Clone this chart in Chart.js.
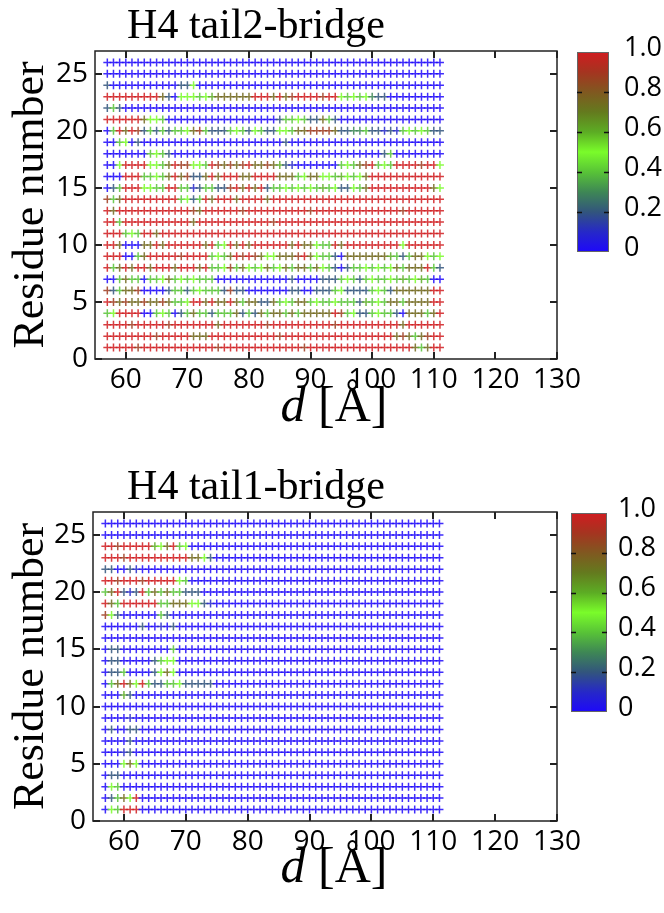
<!DOCTYPE html>
<html>
<head>
<meta charset="utf-8">
<script src="https://cdn.jsdelivr.net/npm/chart.js@4.4.1/dist/chart.umd.min.js"></script>
<style>
  body { margin: 0; background: #fff; }
  #page { position: relative; width: 664px; height: 913px; overflow: hidden; }
  canvas { position: absolute; }
</style>
</head>
<body>
<div id="page">
  <canvas id="tail2Chart" width="664" height="456" style="left:0;top:0"></canvas>
  <canvas id="tail1Chart" width="664" height="452" style="left:0;top:461px"></canvas>
  <canvas id="tail2Bar" width="104" height="240" style="left:560px;top:30px"></canvas>
  <canvas id="tail1Bar" width="104" height="240" style="left:555px;top:491px"></canvas>
</div>
<script>
// distance d [Å] of each column, residue number of each row (top row first)
const distances = [57, 58, 59, 60, 61, 62, 63, 64, 65, 66, 67, 68, 69, 70, 71, 72, 73, 74, 75, 76,
  77, 78, 79, 80, 81, 82, 83, 84, 85, 86, 87, 88, 89, 90, 91, 92, 93, 94, 95, 96,
  97, 98, 99, 100, 101, 102, 103, 104, 105, 106, 107, 108, 109, 110, 111];
const residues = [26, 25, 24, 23, 22, 21, 20, 19, 18, 17, 16, 15, 14, 13, 12, 11, 10, 9, 8, 7, 6, 5, 4, 3, 2, 1];

const levels = [0, 0.1, 0.2, 0.3, 0.4, 0.5, 0.6, 0.75, 0.88, 1.0];

// H4 tail2-bridge, one string per residue (26 down to 1), columns d = 57..111
const tail2Rows = [
  "00000 00000 00000 00000 00000 00000 00000 00000 00000 00000 00000",
  "00000 00000 00000 00000 00000 00000 00000 00000 00000 00000 00000",
  "20000 00000 00225 00000 00000 00000 00000 00000 00000 00000 00000",
  "99999 99997 20555 45677 77779 99797 89999 89954 54532 20000 00000",
  "24200 00000 00000 00000 00000 00000 00000 00000 00000 00000 00000",
  "99999 97554 00000 00000 00000 00024 45422 74200 00000 00000 00000",
  "04979 82424 24457 84222 45425 42255 47788 88722 33422 12145 45422",
  "00450 20000 00000 00000 00000 00002 00000 00000 00000 00000 00000",
  "00000 00454 20000 00000 00000 00000 00000 00000 00000 24000 00000",
  "00599 99554 79885 54987 87897 78762 10000 00045 47894 54999 98995",
  "00099 94454 79782 27979 99779 99977 74577 55465 45799 99999 99999",
  "02499 95544 99441 24422 89797 92445 45454 64522 54799 99999 99975",
  "84799 99999 99452 49799 97999 97999 99999 99999 99999 99999 99999",
  "97999 99999 99998 79999 99899 99999 99989 99999 99999 99989 99999",
  "99499 99999 99997 99999 99999 99899 99999 99999 99999 99999 99999",
  "99945 49979 99999 99999 99999 99999 99999 99999 99999 99999 99999",
  "99700 07797 99999 97945 97979 99999 79775 44979 99999 99959 99999",
  "99900 47999 99899 99454 79898 75577 78975 44207 77777 76424 77545",
  "94797 99799 97999 79445 84754 57457 47747 54202 44545 45747 77942",
  "00474 40445 74545 44400 00000 00000 20000 22245 42454 45464 56400",
  "82477 80000 24424 54442 82200 00000 22002 22452 22245 42777 77799",
  "98787 78778 74459 97977 97477 22745 47745 44544 42645 47747 77799",
  "45999 90045 40247 44244 47242 74774 74777 77984 52245 44207 77479",
  "99998 99999 89999 99979 99999 98999 99999 99899 99999 99979 99999",
  "99999 99989 99997 77999 99999 99989 99999 99999 99999 99787 47899",
  "99999 89999 99999 99989 99999 99999 99899 99999 99999 99999 74799"
];

// H4 tail1-bridge, same layout
const tail1Rows = [
  "00000 00000 00000 00000 00000 00000 00000 00000 00000 00000 00000",
  "00000 00000 00000 00000 00000 00000 00000 00000 00000 00000 00000",
  "99899 99965 79450 00000 00000 00000 00000 00000 00000 00000 00000",
  "99989 99999 99997 75200 00000 00000 00000 00000 00000 00000 00000",
  "22002 10000 00000 00000 00000 00000 00000 00000 00000 00000 00000",
  "99899 98999 99540 00000 00000 00000 00000 00000 00000 00000 00000",
  "47921 29474 74422 20000 00000 00000 00000 00000 00000 00000 00000",
  "97499 99994 47775 52100 00000 00000 00000 00000 00000 00000 00000",
  "85200 00004 20000 00000 00000 00000 00000 00000 00000 00000 00000",
  "00000 02001 02000 00000 00000 00000 00000 00000 00000 00000 00000",
  "00000 00000 00000 00000 00000 00000 00000 00000 00000 00000 00000",
  "02200 00000 04000 00000 00000 00000 00000 00000 00000 00000 00000",
  "02200 00024 55000 00000 00000 00000 00000 00000 00000 00000 00000",
  "02240 00025 75000 00000 00000 00000 00000 00000 00000 00000 00000",
  "04797 59422 44522 22200 00000 00000 00000 00000 00000 00000 00000",
  "00062 00000 00000 00000 00000 00000 00000 00000 00000 00000 00000",
  "00000 00000 00000 00000 00000 00000 00000 00000 00000 00000 00000",
  "00001 00000 00000 00000 00000 00000 00000 00000 00000 00000 00000",
  "02002 20000 00000 00000 00000 00000 00000 00000 00000 00000 00000",
  "00002 00000 00000 00000 00000 00000 00000 00000 00000 00000 00000",
  "00012 00000 00000 00000 00000 00000 00000 00000 00000 00000 00000",
  "00057 50000 00000 00000 00000 00000 00000 00000 00000 00000 00000",
  "02200 00000 00000 00000 00000 00000 00000 00000 00000 00000 00000",
  "05400 00000 00000 00000 00000 00000 00000 00000 00000 00000 00000",
  "02475 90000 00000 00000 00000 00000 00000 00000 00000 00000 00000",
  "05499 90000 00000 00000 00000 00000 00000 00000 00000 00000 00000"
];

const xTicks = [60, 70, 80, 90, 100, 110, 120, 130];
const yTicks = [0, 5, 10, 15, 20, 25];
const barTicks = [0, 0.2, 0.4, 0.6, 0.8, 1.0];
const barLabels = ["0", "0.2", "0.4", "0.6", "0.8", "1.0"];

// colour map of the colour bar, blue -> green -> red
const cmapStops = [
  [0.0, [30, 8, 250]],
  [0.1, [38, 40, 200]],
  [0.2, [50, 85, 125]],
  [0.3, [62, 135, 85]],
  [0.4, [88, 195, 55]],
  [0.5, [122, 252, 42]],
  [0.6, [92, 172, 36]],
  [0.7, [100, 122, 30]],
  [0.8, [128, 88, 32]],
  [0.9, [165, 52, 32]],
  [1.0, [208, 28, 32]]
];

function colorAt(v, alpha) {
  let i = 0;
  while (i < cmapStops.length - 2 && v > cmapStops[i + 1][0]) i++;
  const [v0, c0] = cmapStops[i];
  const [v1, c1] = cmapStops[i + 1];
  const t = Math.min(1, Math.max(0, (v - v0) / (v1 - v0)));
  const c = c0.map((k, j) => Math.round(k + (c1[j] - k) * t));
  return `rgba(${c[0]}, ${c[1]}, ${c[2]}, ${alpha})`;
}

function buildPoints(rows) {
  const pts = [];
  rows.forEach((row, i) => {
    const cells = row.replace(/ /g, "");
    distances.forEach((d, j) => {
      pts.push({ x: d, y: residues[i], v: levels[+cells[j]] });
    });
  });
  return pts;
}

const sansFont = "'Open Sans', 'DejaVu Sans', sans-serif";
const serifFont = "'Liberation Serif', 'DejaVu Serif', serif";

// box round the plot with inward tick marks
const framePlugin = {
  id: "frame",
  afterDraw(chart) {
    const { ctx, chartArea: a, scales: { x, y } } = chart;
    ctx.save();
    ctx.strokeStyle = "#222";
    ctx.lineWidth = 1.5;
    ctx.strokeRect(a.left, a.top, a.right - a.left, a.bottom - a.top);
    ctx.beginPath();
    xTicks.forEach(v => {
      const px = Math.round(x.getPixelForValue(v));
      ctx.moveTo(px, a.bottom); ctx.lineTo(px, a.bottom - 7);
      ctx.moveTo(px, a.top); ctx.lineTo(px, a.top + 7);
    });
    yTicks.forEach(v => {
      const py = Math.round(y.getPixelForValue(v));
      ctx.moveTo(a.left, py); ctx.lineTo(a.left + 7, py);
      ctx.moveTo(a.right, py); ctx.lineTo(a.right - 7, py);
    });
    ctx.lineWidth = 2;
    ctx.stroke();
    ctx.restore();
  }
};

// panel title and the "d [Å]" axis label (italic d)
const panelTextPlugin = {
  id: "panelText",
  afterDraw(chart, args, opts) {
    const ctx = chart.ctx;
    ctx.save();
    ctx.fillStyle = "#000";
    ctx.textBaseline = "alphabetic";
    ctx.textAlign = "center";
    ctx.font = `42px ${serifFont}`;
    ctx.fillText(opts.title, opts.titleX, opts.titleY);

    const italic = `italic 50px ${serifFont}`;
    const upright = `50px ${serifFont}`;
    ctx.font = italic;
    const w1 = ctx.measureText("d").width;
    ctx.font = upright;
    const w2 = ctx.measureText(" [Å]").width;
    const start = opts.labelX - (w1 + w2) / 2;
    ctx.textAlign = "left";
    ctx.font = italic;
    ctx.fillText("d", start, opts.labelY);
    ctx.font = upright;
    ctx.fillText(" [Å]", start + w1, opts.labelY);
    ctx.restore();
  }
};

function renderPanel(canvasId, rows, title, area) {
  const canvas = document.getElementById(canvasId);
  const ctx = canvas.getContext("2d");

  new Chart(ctx, {
    type: "scatter",
    data: {
      datasets: [{
        data: buildPoints(rows),
        pointStyle: "cross",
        pointRadius: 4,
        pointHoverRadius: 4,
        pointBorderWidth: 1.5,
        pointBorderColor: c => colorAt(c.raw.v, 0.85)
      }]
    },
    options: {
      responsive: false,
      animation: false,
      devicePixelRatio: 1,
      events: [],
      layout: {
        padding: { left: 0, top: area.top, right: canvas.width - area.right, bottom: canvas.height - area.bottom - 40 }
      },
      plugins: {
        legend: { display: false },
        tooltip: { enabled: false },
        panelText: { title: title, titleX: 256, titleY: 38, labelX: 334, labelY: 421 }
      },
      scales: {
        x: {
          type: "linear",
          min: 55,
          max: 130,
          afterBuildTicks: s => { s.ticks = xTicks.map(v => ({ value: v })); },
          afterFit: s => { s.height = 40; },
          grid: { display: false, drawTicks: false },
          border: { display: false },
          ticks: { color: "#000", font: { family: sansFont, size: 28 }, padding: 4, maxRotation: 0 }
        },
        y: {
          min: 0,
          max: 27,
          afterBuildTicks: s => { s.ticks = yTicks.map(v => ({ value: v })); },
          afterFit: s => { s.width = area.left; },
          grid: { display: false, drawTicks: false },
          border: { display: false },
          ticks: { color: "#000", font: { family: sansFont, size: 28 }, padding: 7 },
          title: {
            display: true,
            text: "Residue number",
            color: "#000",
            font: { family: serifFont, size: 44 },
            padding: { top: 5, bottom: 0 }
          }
        }
      }
    },
    plugins: [framePlugin, panelTextPlugin]
  });
}

// outline, small tick marks and labels of the colour bar
const barFramePlugin = {
  id: "barFrame",
  afterDraw(chart, args, opts) {
    const { ctx, chartArea: a, scales: { y } } = chart;
    ctx.save();
    ctx.strokeStyle = "#666";
    ctx.lineWidth = 1;
    ctx.strokeRect(a.left + 0.5, a.top + 0.5, a.right - a.left - 1, a.bottom - a.top - 1);
    ctx.beginPath();
    barTicks.slice(1, -1).forEach(v => {
      const py = Math.round(y.getPixelForValue(v)) + 0.5;
      ctx.moveTo(a.left, py); ctx.lineTo(a.left + 5, py);
      ctx.moveTo(a.right, py); ctx.lineTo(a.right - 5, py);
    });
    ctx.strokeStyle = "#111";
    ctx.lineWidth = 1.5;
    ctx.stroke();

    ctx.fillStyle = "#000";
    ctx.font = `27px ${sansFont}`;
    ctx.textAlign = "left";
    ctx.textBaseline = "middle";
    barTicks.forEach((v, i) => {
      ctx.fillText(barLabels[i], a.right + opts.gap, y.getPixelForValue(v) - 4);
    });
    ctx.restore();
  }
};

function renderColorbar(canvasId, box) {
  const ctx = document.getElementById(canvasId).getContext("2d");

  new Chart(ctx, {
    type: "bar",
    data: {
      labels: [""],
      datasets: [{
        data: [[0, 1]],
        barPercentage: 1,
        categoryPercentage: 1,
        borderWidth: 0,
        backgroundColor: c => {
          const a = c.chart.chartArea;
          if (!a) return null;
          const g = c.chart.ctx.createLinearGradient(0, a.bottom, 0, a.top);
          cmapStops.forEach(([v, rgb]) => g.addColorStop(v, `rgb(${rgb[0]}, ${rgb[1]}, ${rgb[2]})`));
          return g;
        }
      }]
    },
    options: {
      responsive: false,
      animation: false,
      devicePixelRatio: 1,
      events: [],
      layout: { padding: { left: box.left, top: box.top, bottom: box.bottom, right: 0 } },
      plugins: { legend: { display: false }, tooltip: { enabled: false }, barFrame: { gap: box.gap } },
      scales: {
        x: { display: false },
        y: {
          position: "right",
          min: 0,
          max: 1,
          afterBuildTicks: s => { s.ticks = barTicks.map(v => ({ value: v })); },
          afterFit: s => { s.width = box.axisWidth; },
          grid: { display: false, drawTicks: false },
          border: { display: false },
          ticks: { display: false }
        }
      }
    },
    plugins: [barFramePlugin]
  });
}

renderPanel("tail2Chart", tail2Rows, "H4 tail2-bridge", { left: 95, right: 557, top: 51, bottom: 359 });
renderPanel("tail1Chart", tail1Rows, "H4 tail1-bridge", { left: 93, right: 557, top: 51, bottom: 360 });
renderColorbar("tail2Bar", { left: 17, top: 22, bottom: 18, axisWidth: 55, gap: 15 });
renderColorbar("tail1Bar", { left: 16, top: 22, bottom: 19, axisWidth: 52, gap: 11 });
</script>
</body>
</html>
